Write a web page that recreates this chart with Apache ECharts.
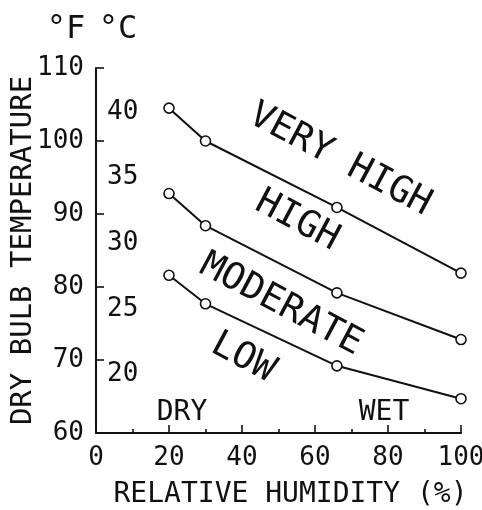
<!DOCTYPE html>
<html>
<head>
<meta charset="utf-8">
<script src="https://cdn.jsdelivr.net/npm/echarts@6/dist/echarts.min.js"></script>
<style>
html,body{margin:0;padding:0;background:#fff;}
#chart{width:482px;height:510px;}
</style>
</head>
<body>
<div id="chart"></div>
<script>
// Data
var humidity = [20, 30, 66, 100];               // relative humidity (%)
var veryHighLine = [104.5, 100, 90.9, 81.9];    // °F boundary between HIGH and VERY HIGH
var highLine = [92.8, 88.4, 79.2, 72.8];        // °F boundary between MODERATE and HIGH
var lowLine = [81.6, 77.7, 69.2, 64.7];         // °F boundary between LOW and MODERATE
var celsiusTicks = [20, 25, 30, 35, 40];
var fahrenheitRange = [60, 110];

var FONT = "'DejaVu Sans Mono', 'Liberation Mono', monospace";
var INK = '#111';

function pairs(ys) {
  return humidity.map(function (x, i) { return [x, ys[i]]; });
}
function f2c(f) { return (f - 32) * 5 / 9; }

function lineSeries(name, ys) {
  return {
    name: name,
    type: 'line',
    data: pairs(ys),
    xAxisIndex: 0,
    yAxisIndex: 0,
    symbol: 'circle',
    symbolSize: 10,
    showAllSymbol: true,
    lineStyle: { color: INK, width: 2 },
    itemStyle: { color: '#fff', borderColor: INK, borderWidth: 1.6 },
    z: 3
  };
}

function note(text, x, y, deg, size) {
  return {
    type: 'text',
    x: x, y: y,
    rotation: deg * Math.PI / 180,
    style: {
      text: text,
      fill: INK,
      font: 'normal ' + size + 'px ' + FONT,
      textAlign: 'center',
      textVerticalAlign: 'middle'
    }
  };
}

var chart = echarts.init(document.getElementById('chart'));
chart.setOption({
  animation: false,
  backgroundColor: '#fff',
  grid: { left: 96, right: 21, top: 68, bottom: 77, containLabel: false, outerBoundsMode: 'none' },
  xAxis: {
    type: 'value',
    min: 0, max: 100, interval: 20,
    name: 'RELATIVE HUMIDITY (%)',
    nameLocation: 'middle',
    nameGap: 48,
    nameMoveOverlap: false,
    nameTextStyle: { fontFamily: FONT, fontSize: 28, color: INK, padding: [0, 0, 0, 24] },
    axisLine: { lineStyle: { color: INK, width: 2 } },
    axisTick: { inside: true, length: 8, lineStyle: { color: INK, width: 1.6 } },
    minorTick: { show: true, splitNumber: 2, length: 4, lineStyle: { color: INK, width: 1.6 } },
    axisLabel: { fontFamily: FONT, fontSize: 26, color: INK, margin: 12, hideOverlap: false },
    splitLine: { show: false }
  },
  yAxis: [{
    type: 'value',
    position: 'left',
    min: fahrenheitRange[0], max: fahrenheitRange[1], interval: 10,
    name: 'DRY BULB TEMPERATURE',
    nameLocation: 'middle',
    nameGap: 58,
    nameRotate: 90,
    nameMoveOverlap: false,
    nameTextStyle: { fontFamily: FONT, fontSize: 29, color: INK },
    axisLine: { show: true, lineStyle: { color: INK, width: 2 } },
    axisTick: { show: true, inside: true, length: 8, lineStyle: { color: INK, width: 1.6 } },
    axisLabel: { fontFamily: FONT, fontSize: 26, color: INK, margin: 12 },
    splitLine: { show: false }
  }, {
    type: 'value',
    position: 'left',
    min: f2c(fahrenheitRange[0]), max: f2c(fahrenheitRange[1]),
    axisLine: { show: false },
    axisTick: { show: false },
    splitLine: { show: false },
    axisLabel: {
      inside: true,
      margin: 11,
      customValues: celsiusTicks,
      fontFamily: FONT, fontSize: 26, color: INK,
      formatter: function (v) { return String(Math.round(v)); }
    }
  }],
  series: [
    lineSeries('VERY HIGH', veryHighLine),
    lineSeries('HIGH', highLine),
    lineSeries('LOW', lowLine)
  ],
  graphic: [
    note('°F', 66, 30, 0, 32),
    note('°C', 118, 30, 0, 32),
    note('VERY HIGH', 340, 160, -28, 37),
    note('HIGH', 297, 221, -28, 37),
    note('MODERATE', 281, 305, -28, 37),
    note('LOW', 243, 358, -28, 37),
    note('DRY', 182, 413, 0, 28),
    note('WET', 384, 413, 0, 28)
  ]
});
</script>
</body>
</html>
